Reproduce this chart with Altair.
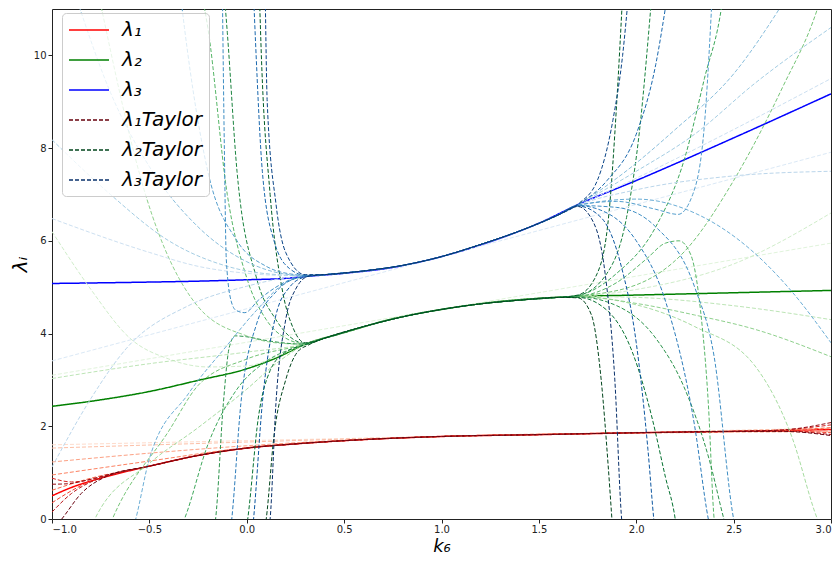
import altair as alt
import pandas as pd

# ---------------- main eigenvalue curves ----------------
K_L1 = [-1, -0.9, -0.75, -0.5, -0.25, 0, 0.25, 0.5, 1.0, 1.5, 2.0, 2.5, 3.0]
V_L1 = [0.50, 0.68, 0.88, 1.14, 1.37, 1.53, 1.62, 1.69, 1.78, 1.82, 1.86, 1.89, 1.93]
K_L2 = [-1, -0.75, -0.5, -0.25, 0, 0.15, 0.3, 0.5, 0.77, 1.0, 1.25, 1.5, 1.7, 2.0, 2.5, 3.0]
V_L2 = [2.43, 2.57, 2.75, 2.99, 3.24, 3.47, 3.77, 4.02, 4.34, 4.52, 4.67, 4.76, 4.80, 4.83, 4.88, 4.93]
K_L3 = [-1, -0.5, -0.25, 0, 0.2, 0.3, 0.5, 0.77, 1.0, 1.25, 1.5, 1.7, 2.0, 2.5, 3.0]
V_L3 = [5.08, 5.11, 5.13, 5.16, 5.19, 5.23, 5.30, 5.44, 5.66, 5.98, 6.38, 6.78, 7.30, 8.22, 9.17]

# ---------------- Taylor curves: lambda_1 ----------------
RED_ORDER1 = [(-1, 1.6), (3, 1.96)]
RED_FULL = [
    [(-1, 1.53), (0, 1.66), (1, 1.78), (2, 1.85), (3, 1.88)],
    [(-1, 1.23), (-0.5, 1.42), (0, 1.58), (0.5, 1.70), (1, 1.78), (2, 1.86), (3, 1.95)],
    [(-1, 0.95), (-0.5, 1.25), (0, 1.54), (0.5, 1.69), (1, 1.78), (2, 1.86), (3, 1.90)],
]
RED_MIDDLE = [(-0.5, 1.14), (-0.25, 1.37), (0, 1.53), (0.25, 1.62), (0.5, 1.69),
              (1.0, 1.78), (1.5, 1.82), (2.0, 1.86), (2.5, 1.89)]
RED_LEFT = [
    [(-1, 0.62), (-0.8, 0.88), (-0.65, 1.02)],
    [(-1, 0.35), (-0.85, 0.72), (-0.7, 0.95)],
    [(-1, 0.88), (-0.9, 0.80), (-0.8, 0.85), (-0.7, 0.96)],
    [(-1, 0.15), (-0.9, 0.55), (-0.8, 0.80), (-0.65, 1.00)],
    [(-1, 0.75), (-0.92, 0.76), (-0.8, 0.86), (-0.7, 0.97)],
    [(-0.97, -0.1), (-0.95, 0), (-0.85, 0.55), (-0.72, 0.92)],
]
RED_RIGHT = [
    [(2.75, 1.91), (3.0, 1.97)],
    [(2.75, 1.90), (3.0, 1.86)],
    [(2.75, 1.92), (3.0, 2.03)],
    [(2.75, 1.90), (3.0, 1.82)],
    [(2.75, 1.92), (3.0, 2.08)],
    [(2.75, 1.89), (3.0, 1.80)],
]

# ---------------- Taylor curves: lambda_2 ----------------
GREEN_ORDER1 = [(-1, 3.1), (3, 5.95)]
GREEN_MIDDLE = [(0.4, 3.90), (0.6, 4.15), (0.8, 4.36), (1.0, 4.52), (1.2, 4.64), (1.4, 4.72), (1.6, 4.78)]
GREEN_LEFT = [
    [(-1, 6.2), (-0.8, 4.95), (-0.6, 3.9), (-0.4, 3.45), (-0.2, 3.28), (0, 3.3), (0.15, 3.5), (0.3, 3.77)],
    [(-1, 3.03), (-0.5, 3.35), (0, 3.6), (0.3, 3.78)],
    [(-0.8, -0.2), (-0.78, 0), (-0.5, 1.2), (-0.25, 1.97), (0, 2.8), (0.15, 3.35), (0.3, 3.76)],
    [(-0.76, 11.3), (-0.74, 10.9), (-0.52, 7.0), (-0.25, 4.58), (0, 3.95), (0.15, 3.8), (0.3, 3.77)],
    [(-0.71, -0.2), (-0.69, 0), (-0.4, 1.9), (-0.25, 2.88), (0, 3.45), (0.3, 3.77)],
    [(-0.23, 11.3), (-0.2, 10.6), (-0.1, 7.0), (0.0, 5.2), (0.1, 4.3), (0.2, 3.9), (0.3, 3.78)],
    [(-0.34, -0.2), (-0.32, 0), (-0.2, 1.6), (-0.05, 2.8), (0.1, 3.4), (0.3, 3.76)],
    [(-0.17, -0.3), (-0.16, 0), (-0.12, 2.5), (-0.09, 3.7), (-0.06, 3.95), (0.0, 3.93), (0.1, 3.85), (0.3, 3.77)],
    [(-0.115, 11.3), (-0.1, 10.5), (-0.05, 7.5), (0.05, 5.2), (0.15, 4.3), (0.3, 3.79)],
    [(-0.005, -0.3), (0.005, 0), (0.06, 2.2), (0.12, 3.2), (0.2, 3.6), (0.3, 3.76)],
    [(0.065, 11.3), (0.075, 10.0), (0.12, 7.0), (0.18, 5.0), (0.24, 4.1), (0.3, 3.8)],
    [(0.09, -0.3), (0.1, 0), (0.14, 1.8), (0.2, 3.0), (0.26, 3.6), (0.32, 3.76)],
]
GREEN_RIGHT = [
    [(1.7, 4.8), (2.0, 4.95), (2.5, 5.5), (3.0, 6.6)],
    [(1.7, 4.8), (2.0, 4.78), (2.5, 4.6), (3.0, 4.3)],
    [(1.7, 4.79), (2.0, 4.62), (2.3, 4.15), (2.61, 3.3), (2.8, 1.76), (2.93, 0), (2.96, -0.3)],
    [(1.7, 4.8), (2.0, 4.65), (2.3, 4.4), (2.61, 4.09), (3.0, 3.5)],
    [(1.7, 4.81), (2.0, 5.05), (2.25, 5.78), (2.5, 7.3), (2.75, 9.3), (2.93, 11.0), (2.96, 11.4)],
    [(1.7, 4.8), (1.9, 5.1), (2.05, 5.6), (2.15, 5.95), (2.22, 6.0), (2.28, 5.7), (2.33, 4.5),
     (2.37, 2.5), (2.4, 0), (2.41, -0.3)],
    [(1.7, 4.82), (1.9, 5.3), (2.1, 6.3), (2.25, 7.8), (2.35, 9.5), (2.44, 11.1), (2.45, 11.4)],
    [(1.7, 4.79), (1.9, 4.6), (2.1, 3.9), (2.25, 2.8), (2.38, 1.2), (2.45, 0), (2.47, -0.3)],
    [(1.7, 4.82), (1.85, 5.3), (1.95, 6.5), (2.02, 8.5), (2.07, 10.8), (2.08, 11.3)],
    [(1.7, 4.78), (1.85, 4.5), (1.98, 3.6), (2.08, 2.2), (2.15, 0.9), (2.2, 0), (2.21, -0.3)],
    [(1.7, 4.83), (1.8, 5.3), (1.86, 6.6), (1.9, 9.0), (1.93, 11.3)],
    [(1.7, 4.77), (1.77, 4.4), (1.82, 3.0), (1.855, 1.2), (1.875, 0), (1.88, -0.3)],
]

# ---------------- Taylor curves: lambda_3 ----------------
BLUE_ORDER1 = [(-1, 3.41), (3, 7.91)]
BLUE_MIDDLE = [(0.4, 5.27), (0.6, 5.35), (0.8, 5.47), (1.0, 5.66), (1.2, 5.92), (1.4, 6.21), (1.6, 6.56)]
BLUE_LEFT = [
    [(-1, 6.48), (-0.5, 5.75), (-0.25, 5.45), (0, 5.3), (0.2, 5.25), (0.3, 5.25)],
    [(-1, 1.12), (-0.8, 2.6), (-0.62, 3.67), (-0.3, 4.6), (0, 5.02), (0.2, 5.2), (0.3, 5.24)],
    [(-1, 8.18), (-0.7, 7.0), (-0.4, 6.0), (-0.1, 5.45), (0.2, 5.26), (0.3, 5.25)],
    [(-0.88, 11.3), (-0.7, 9.2), (-0.5, 7.6), (-0.25, 6.3), (0, 5.55), (0.2, 5.28), (0.3, 5.25)],
    [(-0.59, -0.3), (-0.57, 0), (-0.5, 1.3), (-0.3, 2.7), (-0.1, 3.75), (0.05, 4.5), (0.2, 5.1), (0.3, 5.23)],
    [(-0.34, 11.3), (-0.32, 10.6), (-0.2, 7.5), (-0.05, 6.0), (0.1, 5.45), (0.25, 5.27), (0.32, 5.25)],
    [(-0.125, 11.3), (-0.115, 8.0), (-0.105, 5.6), (-0.08, 4.7), (-0.055, 4.5), (-0.01, 4.45),
     (0.06, 4.72), (0.15, 5.0), (0.26, 5.21)],
    [(-0.085, -0.3), (-0.077, 0), (-0.03, 2.5), (0.05, 4.2), (0.15, 4.9), (0.28, 5.22)],
    [(0.035, 11.3), (0.045, 10.3), (0.08, 7.5), (0.14, 6.0), (0.22, 5.4), (0.3, 5.26)],
    [(0.028, -0.3), (0.035, 0), (0.08, 2.5), (0.15, 4.4), (0.22, 5.0), (0.3, 5.22)],
    [(0.095, 11.3), (0.105, 9.0), (0.15, 6.8), (0.2, 5.75), (0.3, 5.27)],
    [(0.112, -0.3), (0.12, 0), (0.15, 2.5), (0.2, 4.3), (0.25, 4.95), (0.32, 5.24)],
]
BLUE_RIGHT = [
    [(1.7, 6.76), (2.0, 7.35), (2.5, 8.4), (3.0, 9.5)],
    [(1.7, 6.76), (2.0, 7.1), (2.5, 7.4), (3.0, 7.5)],
    [(1.7, 6.78), (2.0, 7.5), (2.3, 8.3), (2.61, 9.4), (3.0, 10.6)],
    [(1.7, 6.78), (1.9, 7.35), (2.2, 8.4), (2.5, 9.6), (2.78, 11.3)],
    [(1.7, 6.76), (2.0, 6.9), (2.3, 6.6), (2.59, 5.8), (2.8, 4.9), (3.0, 3.8)],
    [(1.7, 6.77), (1.9, 6.85), (2.1, 6.68), (2.215, 6.57), (2.29, 7.0), (2.35, 8.5), (2.39, 11.3)],
    [(1.7, 6.76), (1.9, 6.72), (2.1, 6.3), (2.3, 5.0), (2.4, 3.5), (2.5, 0), (2.52, -0.4)],
    [(1.7, 6.76), (1.85, 6.6), (2.0, 6.0), (2.15, 4.7), (2.3, 2.0), (2.37, 0), (2.39, -0.4)],
    [(1.7, 6.78), (1.85, 7.3), (2.0, 8.3), (2.1, 9.8), (2.16, 11.3)],
    [(1.7, 6.75), (1.82, 6.5), (1.92, 5.5), (2.0, 3.8), (2.06, 1.5), (2.09, 0), (2.1, -0.4)],
    [(1.7, 6.79), (1.8, 7.3), (1.88, 8.6), (1.93, 10.0), (1.96, 11.3)],
    [(1.7, 6.74), (1.78, 6.4), (1.84, 5.3), (1.89, 3.0), (1.925, 0), (1.935, -0.4)],
]

SERIES = ["λ₁", "λ₂", "λ₃", "λ₁Taylor", "λ₂Taylor", "λ₃Taylor"]
SERIES_COLORS = ["#ff0000", "#008000", "#0000ff", "#67000d", "#00441b", "#08306b"]
SERIES_DASH = [[1, 0], [1, 0], [1, 0], [4, 2], [4, 2], [4, 2]]

REDS = ["#fff5f0", "#fee0d2", "#fcbba1", "#fc9272", "#fb6a4a", "#ef3b2c", "#cb181d", "#a50f15", "#67000d"]
GREENS = ["#f7fcf5", "#e5f5e0", "#c7e9c0", "#a1d99b", "#74c476", "#41ab5d", "#238b45", "#006d2c", "#00441b"]
BLUES = ["#f7fbff", "#deebf7", "#c6dbef", "#9ecae1", "#6baed6", "#4292c6", "#2171b5", "#08519c", "#08306b"]


def cmap(stops, t):
    x = t * (len(stops) - 1)
    i = min(int(x), len(stops) - 2)
    f = x - i
    a = [int(stops[i][j:j + 2], 16) for j in (1, 3, 5)]
    b = [int(stops[i + 1][j:j + 2], 16) for j in (1, 3, 5)]
    return "#%02x%02x%02x" % tuple(round(a[m] + (b[m] - a[m]) * f) for m in range(3))


def assemble(order1, fulls, lefts, middle, rights):
    return [order1] + fulls + [l + middle + r for l, r in zip(lefts, rights)]


main_rows = []
for name, ks, vs in [("λ₁", K_L1, V_L1), ("λ₂", K_L2, V_L2), ("λ₃", K_L3, V_L3)]:
    for p, (k, v) in enumerate(zip(ks, vs)):
        main_rows.append({"series": name, "k": k, "v": v, "p": p})

taylor_rows = []
top_rows = []
for name, stops, curves in [
    ("λ₁Taylor", REDS, assemble(RED_ORDER1, RED_FULL, RED_LEFT, RED_MIDDLE, RED_RIGHT)),
    ("λ₂Taylor", GREENS, assemble(GREEN_ORDER1, [], GREEN_LEFT, GREEN_MIDDLE, GREEN_RIGHT)),
    ("λ₃Taylor", BLUES, assemble(BLUE_ORDER1, [], BLUE_LEFT, BLUE_MIDDLE, BLUE_RIGHT)),
]:
    n = len(curves)
    for j, pts in enumerate(curves):
        col = cmap(stops, 0.14 + 0.86 * j / (n - 1))
        for p, (k, v) in enumerate(pts):
            row = {"series": name, "curve": f"{name}-{j}", "col": col, "k": k, "v": v, "p": p}
            if j == n - 1:
                top_rows.append(row)
            else:
                taylor_rows.append(row)

X = alt.X("k:Q", scale=alt.Scale(domain=[-1, 3], nice=False, zero=False),
          axis=alt.Axis(values=[-1, -0.5, 0, 0.5, 1, 1.5, 2, 2.5, 3], format=".1f",
                        title="k₆", titlePadding=3, titleFontSize=18, labelPadding=1))
Y = alt.Y("v:Q", scale=alt.Scale(domain=[0, 11], nice=False, zero=False),
          axis=alt.Axis(values=[0, 2, 4, 6, 8, 10], format="d", title="λᵢ", titlePadding=3))

legend = alt.Legend(title=None, orient="none", legendX=10, legendY=4,
                    symbolType="M-2,0H2", symbolSize=400, symbolStrokeWidth=1.5,
                    symbolOffset=10, labelFont="DejaVu Sans",
                    labelFontSize=20, labelFontStyle="italic", labelColor="black",
                    padding=6, rowPadding=9, labelOffset=22,
                    fillColor="rgba(255,255,255,0.8)", strokeColor="#cccccc", cornerRadius=4)
COLOR = alt.Color("series:N", scale=alt.Scale(domain=SERIES, range=SERIES_COLORS), legend=legend)
DASH = alt.StrokeDash("series:N", scale=alt.Scale(domain=SERIES, range=SERIES_DASH), legend=legend)

main = alt.Chart(pd.DataFrame(main_rows)).mark_line(
    clip=True, strokeWidth=1.5, interpolate="monotone"
).encode(x=X, y=Y, color=COLOR, strokeDash=DASH, order="p:Q")

taylor = alt.Chart(pd.DataFrame(taylor_rows)).mark_line(
    clip=True, strokeWidth=1.0, strokeDash=[4, 2], interpolate="monotone"
).encode(x=X, y=Y, color=alt.Color("col:N", scale=None), detail="curve:N", order="p:Q")

top = alt.Chart(pd.DataFrame(top_rows)).mark_line(
    clip=True, strokeWidth=1.0, interpolate="monotone"
).encode(x=X, y=Y, color=COLOR, strokeDash=DASH, order="p:Q")

chart = alt.layer(main, taylor, top).properties(
    width=779, height=510,
    autosize=alt.AutoSizeParams(type="none"),
    padding={"left": 44, "top": 1, "right": 1, "bottom": 37},
).configure_view(
    stroke="#222222", strokeWidth=1
).configure_axis(
    grid=False, domain=False, tickColor="#222222", tickSize=4,
    labelColor="#222222", labelFont="DejaVu Sans", labelFontSize=10,
    titleFont="DejaVu Sans", titleFontSize=20, titleFontStyle="italic",
    titleFontWeight="normal", titleColor="black"
)

chart.save("out.html", embed_options={"renderer": "svg", "actions": False})
